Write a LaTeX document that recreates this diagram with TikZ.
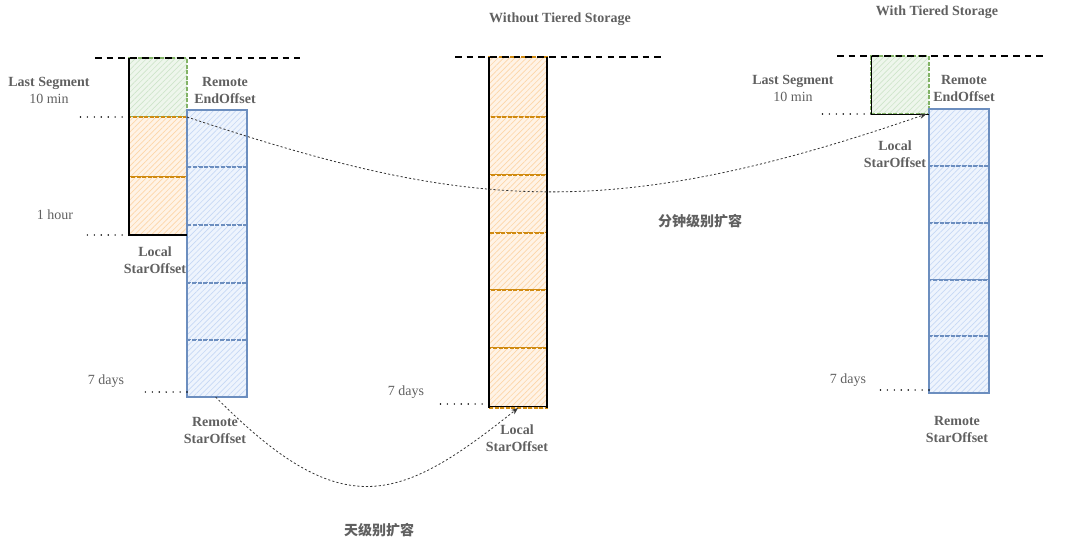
\documentclass[tikz,border=0pt]{standalone}
\usepackage{fontspec}
\setmainfont{Liberation Serif}
\newfontfamily\cjk{Noto Sans CJK SC}
\usetikzlibrary{patterns.meta,arrows.meta,fit}
\definecolor{gstroke}{HTML}{82B366}
\definecolor{gfill}{HTML}{EEF6EC}
\definecolor{ghatch}{HTML}{CFE5CA}
\definecolor{ostroke}{HTML}{D08A10}
\definecolor{ofill}{HTML}{FFF3E6}
\definecolor{ohatch}{HTML}{FDD6A8}
\definecolor{bstroke}{HTML}{6C8EBF}
\definecolor{bfill}{HTML}{EEF4FD}
\definecolor{bhatch}{HTML}{C6D8F5}
\definecolor{txt}{HTML}{606060}
\definecolor{curvec}{HTML}{333333}
\tikzset{
  box/.style={inner sep=0pt, outer sep=0pt, line width=1pt, dash pattern=on 3pt off 1.2pt},
  gseg/.style={box, preaction={fill=gfill}, pattern={Lines[angle=45,distance=3pt,line width=0.5pt]}, pattern color=ghatch, draw=gstroke},
  oseg/.style={box, preaction={fill=ofill}, pattern={Lines[angle=45,distance=3pt,line width=0.5pt]}, pattern color=ohatch, draw=ostroke},
  bseg/.style={box, preaction={fill=bfill}, pattern={Lines[angle=45,distance=3pt,line width=0.5pt]}, pattern color=bhatch, draw=bstroke},
  bouter/.style={inner sep=0pt, draw=bstroke, line width=1.1pt},
  edge/.style={line width=0.9pt, black},
  topline/.style={line width=1.1pt, dash pattern=on 5pt off 3.8pt},
  dotline/.style={line width=1.2pt, dash pattern=on 0pt off 5.2pt, line cap=round},
  curve/.style={curvec, line width=0.6pt, dash pattern=on 1.6pt off 1.6pt, -{Stealth[length=5pt,width=4pt]}},
  lbl/.style={text=txt, align=center, font=\fontsize{10.5}{12.75}\selectfont, inner sep=0pt},
  cjklbl/.style={text=txt, font=\cjk\bfseries\fontsize{10.5}{12}\selectfont, inner sep=0pt}
}
\begin{document}
\begin{tikzpicture}[x=0.75pt,y=-0.75pt]
\useasboundingbox (0,0) rectangle (1080,556);

% ---------- left column ----------
\node[gseg, fit={(129,58) (187,117)}] (Lg) {};
\node[oseg, fit={(129,117) (187,177)}] (Lo1) {};
\node[oseg, fit={(129,177) (187,235)}] (Lo2) {};
\node[bseg, fit={(187,110) (247,167)}] (Lb1) {};
\node[bseg, fit={(187,167) (247,225)}] (Lb2) {};
\node[bseg, fit={(187,225) (247,283)}] (Lb3) {};
\node[bseg, fit={(187,283) (247,340)}] (Lb4) {};
\node[bseg, fit={(187,340) (247,397)}] (Lb5) {};
\node[bouter, fit={(187,110) (247,397)}] (Lb) {};
\draw[edge] (Lg.north west) -- (Lo2.south west) -- (Lo2.south east);
\draw[topline] (95,58) -- (300,58);
\draw[dotline] (Lg.south west) -- ++(-50,0);
\draw[dotline] (Lo2.south west) -- ++(-48,0);
\draw[dotline] (Lb5.south west) ++(0,-5) -- ++(-48,0);

\node[lbl] (Lls) at (49,90.5) {\bfseries Last Segment\\10 min};
\node[lbl] (Lre) at (225,90.5) {\bfseries Remote\\\bfseries EndOffset};
\node[lbl] (Lhr) at (55,215) {1 hour};
\node[lbl] (Lls2) at (155,260.5) {\bfseries Local\\\bfseries StarOffset};
\node[lbl] (L7d) at (106,381) {7 days};
\node[lbl] (Lrs) at (215,430.5) {\bfseries Remote\\\bfseries StarOffset};

% ---------- middle column ----------
\node[lbl, font=\fontsize{10.5}{12}\selectfont\bfseries] (Mt) at (560,19) {Without Tiered Storage};
\node[oseg, fit={(489,57) (547,117)}] (Mo1) {};
\node[oseg, fit={(489,117) (547,175)}] (Mo2) {};
\node[oseg, fit={(489,175) (547,233)}] (Mo3) {};
\node[oseg, fit={(489,233) (547,290)}] (Mo4) {};
\node[oseg, fit={(489,290) (547,348)}] (Mo5) {};
\node[oseg, fit={(489,348) (547,408)}] (Mo6) {};
\draw[edge, line width=1.3pt] (Mo1.north west) -- (Mo6.south west);
\draw[edge] (Mo1.north east) -- (Mo6.south east);
\draw[edge, line width=0.6pt] ([yshift=1.5pt]Mo6.south west) -- ([yshift=1.5pt]Mo6.south east);
\draw[topline] (455,57) -- (662,57);
\draw[dotline] ([yshift=3pt]Mo6.south west) -- ++(-50,0);
\node[lbl] (M7d) at (406,392) {7 days};
\node[lbl] (Mls) at (517,438.5) {\bfseries Local\\\bfseries StarOffset};

% ---------- right column ----------
\node[lbl, font=\fontsize{10.5}{12}\selectfont\bfseries] (Rt) at (937,12) {With Tiered Storage};
\node[gseg, fit={(871,56) (929,114)}] (Rg) {};
\node[bseg, fit={(929,109) (989,166)}] (Rb1) {};
\node[bseg, fit={(929,166) (989,223)}] (Rb2) {};
\node[bseg, fit={(929,223) (989,280)}] (Rb3) {};
\node[bseg, fit={(929,280) (989,336)}] (Rb4) {};
\node[bseg, fit={(929,336) (989,393)}] (Rb5) {};
\node[bouter, fit={(929,109) (989,393)}] (Rb) {};
\draw[edge, line width=0.7pt] (Rg.north west) -- (Rg.south west) -- (Rg.south east);
\draw[topline] (837,56) -- (1045,56);
\draw[dotline] (Rg.south west) -- ++(-51,0);
\draw[dotline] (Rb5.south west) ++(0,-3) -- ++(-49,0);
\node[lbl] (Rls) at (793,88.5) {\bfseries Last Segment\\10 min};
\node[lbl] (Rre) at (964,88.5) {\bfseries Remote\\\bfseries EndOffset};
\node[lbl] (Rlso) at (895,154.5) {\bfseries Local\\\bfseries StarOffset};
\node[lbl] (R7d) at (848,380) {7 days};
\node[lbl] (Rrs) at (957,429.5) {\bfseries Remote\\\bfseries StarOffset};

% ---------- connectors ----------
\draw[curve] (Lg.south east) .. controls (464,209) and (605,225) .. ([xshift=-2pt]Rg.south east);
\draw[curve] ([xshift=-1pt]Lb5.south) .. controls (343,526) and (400,502) .. (Mo6.south);

\node[cjklbl] (cj1) at (700,221) {分钟级别扩容};
\node[cjklbl] (cj2) at (379,530) {天级别扩容};
\end{tikzpicture}
\end{document}
